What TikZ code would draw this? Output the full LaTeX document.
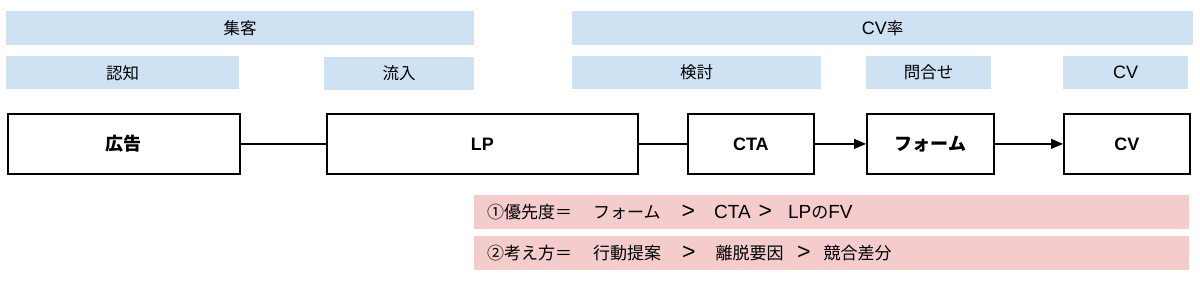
\documentclass[tikz,border=0pt]{standalone}
\usepackage{fontspec}
\setmainfont{Liberation Sans}
\newfontfamily\cjk{Noto Sans CJK JP}
\usetikzlibrary{arrows.meta}
\definecolor{bandblue}{HTML}{CFE2F3}
\definecolor{bandpink}{HTML}{F4CCCC}
\newcommand\latn[1]{{\fontsize{19}{19}\selectfont #1}}
\newcommand\latb[1]{{\fontsize{18}{18}\selectfont #1}}
\newcommand\gtsym{{\fontsize{23}{19}\selectfont >}}
\tikzset{
  band/.style={fill=bandblue, draw=none, inner sep=0pt, anchor=north west,
    font=\fontsize{16.5}{18}\selectfont},
  pinkband/.style={fill=bandpink, draw=none, inner sep=0pt, anchor=north west},
  stagebox/.style={draw=black, line width=1.8pt, fill=white, inner sep=0pt, anchor=north west,
    minimum height=60pt, font=\bfseries\fontsize{18}{20}\selectfont},
  link/.style={line width=1.3pt, draw=black},
  flow/.style={line width=1.3pt, draw=black, -{Triangle[length=12pt,width=10pt]}},
  rowtext/.style={anchor=west, inner sep=0pt, font=\fontsize{17}{19}\selectfont}
}
\begin{document}
\begin{tikzpicture}[x=1pt,y=-1pt]
\useasboundingbox (0,0) rectangle (1200,290);
% top bands
\node[band, minimum width=468pt, minimum height=34pt] (shuukyaku) at (6,11) {\cjk 集客};
\node[band, minimum width=621pt, minimum height=34pt] (cvrate) at (572,11) {\latb{CV}{\cjk 率}};
% second row
\node[band, minimum width=233pt, minimum height=33pt] (ninchi) at (6,56) {\cjk 認知};
\node[band, minimum width=150pt, minimum height=33pt] (ryuunyuu) at (324,57) {\cjk 流入};
\node[band, minimum width=249pt, minimum height=33pt] (kentou) at (572,56) {\cjk 検討};
\node[band, minimum width=125pt, minimum height=33pt] (toiawase) at (866,56) {\cjk 問合せ};
\node[band, minimum width=125pt, minimum height=33pt] (cvlabel) at (1063,56) {\latb{CV}};
% main boxes
\node[stagebox, minimum width=232pt] (koukoku) at (7,113) {\cjk\bfseries 広告};
\node[stagebox, minimum width=311pt] (lp) at (326,113) {LP};
\node[stagebox, minimum width=126pt] (cta) at (687,113) {CTA};
\node[stagebox, minimum width=127pt] (form) at (866,113) {\cjk\bfseries フォーム};
\node[stagebox, minimum width=126pt] (cv) at (1063,113) {CV};
\draw[link] (koukoku) -- (lp);
\draw[link] (lp) -- (cta);
\draw[flow] (cta) -- (form);
\draw[flow] (form) -- (cv);
% bottom bands
\node[pinkband, minimum width=715pt, minimum height=34pt] (prio) at (474,195) {};
\node[pinkband, minimum width=715pt, minimum height=34pt] (think) at (474,236) {};
\node[rowtext] (priotext) at ([xshift=13pt]prio.west) {{\cjk ①優先度＝}\hspace{21pt}{\cjk フォーム}\hspace{21pt}\gtsym\hspace{19pt}\latn{CTA}\hspace{8pt}\gtsym\hspace{16pt}\latn{LP}{\cjk の}\latn{FV}};
\node[rowtext] (thinktext) at ([xshift=13pt]think.west) {{\cjk ②考え方＝}\hspace{21pt}{\cjk 行動提案}\hspace{21pt}\gtsym\hspace{20pt}{\cjk 離脱要因}\hspace{13.5pt}\gtsym\hspace{13pt}{\cjk 競合差分}};
\end{tikzpicture}
\end{document}
